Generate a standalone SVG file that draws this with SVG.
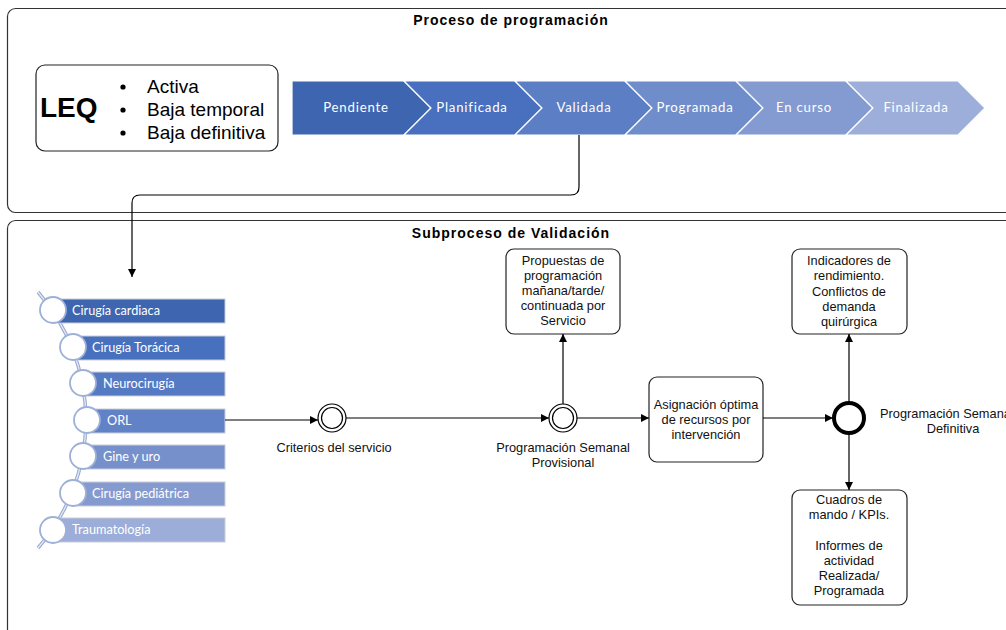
<svg xmlns="http://www.w3.org/2000/svg" width="1006" height="630" viewBox="0 0 1006 630">
<defs>
<marker id="arr" viewBox="0 0 10 10" refX="10" refY="5" markerWidth="8" markerHeight="8" markerUnits="userSpaceOnUse" orient="auto"><path d="M0,0 L10,5 L0,10 z" fill="#000"/></marker>
<style>
.cont{fill:#fff;stroke:#333;stroke-width:1.2}
.box{fill:#fff;stroke:#222;stroke-width:1.2}
.t{font-family:"Liberation Sans",Arial,sans-serif;font-size:12.8px;fill:#111;text-anchor:middle}
.title{font-family:"Liberation Sans",Arial,sans-serif;font-size:14px;font-weight:bold;fill:#000;text-anchor:middle;letter-spacing:1px}
.chev{stroke:#fff;stroke-width:1.2}
.ct{font-family:Lato,"Open Sans",sans-serif;font-size:13.2px;fill:#fff;text-anchor:middle;letter-spacing:0.8px}
.sr{stroke:#c9cdd6;stroke-width:1}
.st{font-family:Lato,"Open Sans",sans-serif;font-size:12.7px;fill:#fff}
.sc{fill:#fff;stroke:#9eb0d8;stroke-width:1.8}
.conn{fill:none;stroke:#000;stroke-width:1.2}
</style>
</defs>

<g id="proceso-programacion">
<rect class="cont" x="7.5" y="8.5" width="1010" height="204" rx="8"/>
<text class="title" x="511" y="25">Proceso de programación</text>
</g>

<g id="subproceso-validacion">
<rect class="cont" x="7.5" y="220.5" width="1010" height="430" rx="8"/>
<text class="title" x="511" y="238">Subproceso de Validación</text>
</g>

<g id="leq">
<rect class="box" x="36" y="65" width="242" height="86" rx="9"/>
<text x="40" y="117" font-family="Liberation Sans,Arial,sans-serif" font-size="28" font-weight="bold" fill="#000">LEQ</text>
<circle cx="123" cy="87" r="2.6" fill="#000"/>
<circle cx="123" cy="110" r="2.6" fill="#000"/>
<circle cx="123" cy="133" r="2.6" fill="#000"/>
<g font-family="Liberation Sans,Arial,sans-serif" font-size="19" fill="#000">
<text x="147" y="93">Activa</text>
<text x="147" y="116">Baja temporal</text>
<text x="147" y="139">Baja definitiva</text>
</g>
</g>

<g id="estados">
<polygon class="chev" fill="#3E66B0" points="292,81 404,81 431,108 404,135 292,135"/>
<polygon class="chev" fill="#4870BE" points="404,81 515,81 542,108 515,135 404,135 431,108"/>
<polygon class="chev" fill="#5B7EC5" points="515,81 625,81 652,108 625,135 515,135 542,108"/>
<polygon class="chev" fill="#6F8DCA" points="625,81 736,81 763,108 736,135 625,135 652,108"/>
<polygon class="chev" fill="#839BD0" points="736,81 846,81 873,108 846,135 736,135 763,108"/>
<polygon class="chev" fill="#9CAED9" points="846,81 958,81 985,108 958,135 846,135 873,108"/>
<text class="ct" x="356" y="112">Pendiente</text>
<text class="ct" x="472" y="112">Planificada</text>
<text class="ct" x="584" y="112">Validada</text>
<text class="ct" x="695" y="112">Programada</text>
<text class="ct" x="804" y="112">En curso</text>
<text class="ct" x="916" y="112">Finalizada</text>
</g>

<g id="servicios">
<path d="M38,292 A195,195 0 0 1 38,548" fill="none" stroke="#9aabd2" stroke-width="3.5"/>
<path d="M38,292 A195,195 0 0 1 38,548" fill="none" stroke="#e3e8f4" stroke-width="1.3"/>
<rect class="sr" x="53" y="299" width="172" height="24" fill="#3D65B0"/>
<rect class="sr" x="73" y="336" width="152" height="24" fill="#4770BE"/>
<rect class="sr" x="83" y="372" width="142" height="24" fill="#5579C3"/>
<rect class="sr" x="87" y="409" width="138" height="24" fill="#6282C7"/>
<rect class="sr" x="83" y="445" width="142" height="24" fill="#7690CB"/>
<rect class="sr" x="73" y="482" width="152" height="24" fill="#859BD0"/>
<rect class="sr" x="53" y="518" width="172" height="24" fill="#9BADD8"/>
<circle class="sc" cx="53" cy="310" r="13"/>
<circle class="sc" cx="73" cy="347" r="13"/>
<circle class="sc" cx="83" cy="383" r="13"/>
<circle class="sc" cx="87" cy="420" r="13"/>
<circle class="sc" cx="83" cy="456" r="13"/>
<circle class="sc" cx="73" cy="493" r="13"/>
<circle class="sc" cx="53" cy="530" r="13"/>
<text class="st" x="72" y="315">Cirugía cardiaca</text>
<text class="st" x="92" y="352">Cirugía Torácica</text>
<text class="st" x="103" y="388">Neurocirugía</text>
<text class="st" x="107" y="425">ORL</text>
<text class="st" x="103" y="461">Gine y uro</text>
<text class="st" x="92" y="498">Cirugía pediátrica</text>
<text class="st" x="72" y="534">Traumatología</text>
</g>

<g id="criterios">
<circle cx="332" cy="418" r="14" fill="#fff" stroke="#000" stroke-width="1.2"/>
<circle cx="332" cy="418" r="10.5" fill="none" stroke="#000" stroke-width="1.2"/>
<text class="t" x="334" y="452">Criterios del servicio</text>
</g>

<g id="prog-provisional">
<circle cx="563" cy="418" r="14" fill="#fff" stroke="#000" stroke-width="1.2"/>
<circle cx="563" cy="418" r="10.5" fill="none" stroke="#000" stroke-width="1.2"/>
<text class="t" x="563" y="452">Programación Semanal</text>
<text class="t" x="563" y="467">Provisional</text>
</g>

<g id="propuestas">
<rect class="box" x="506" y="249" width="114" height="85" rx="8"/>
<text class="t" x="563" y="265">Propuestas de</text>
<text class="t" x="563" y="280">programación</text>
<text class="t" x="563" y="295">mañana/tarde/</text>
<text class="t" x="563" y="310">continuada por</text>
<text class="t" x="563" y="325">Servicio</text>
</g>

<g id="asignacion">
<rect class="box" x="649" y="377" width="114" height="85" rx="8"/>
<text class="t" x="706" y="409">Asignación óptima</text>
<text class="t" x="706" y="424">de recursos por</text>
<text class="t" x="706" y="439">intervención</text>
</g>

<g id="prog-definitiva">
<circle cx="849" cy="418" r="15" fill="#fff" stroke="#000" stroke-width="4"/>
<text class="t" x="880" y="418" style="text-anchor:start">Programación Semanal</text>
<text class="t" x="953" y="433">Definitiva</text>
</g>

<g id="indicadores">
<rect class="box" x="792" y="249" width="115" height="85" rx="8"/>
<text class="t" x="849" y="265">Indicadores de</text>
<text class="t" x="849" y="280">rendimiento.</text>
<text class="t" x="849" y="296">Conflictos de</text>
<text class="t" x="849" y="311">demanda</text>
<text class="t" x="849" y="326">quirúrgica</text>
</g>

<g id="cuadros">
<rect class="box" x="792" y="490" width="115" height="115" rx="8"/>
<text class="t" x="849" y="504">Cuadros de</text>
<text class="t" x="849" y="519">mando / KPIs.</text>
<text class="t" x="849" y="550">Informes de</text>
<text class="t" x="849" y="565">actividad</text>
<text class="t" x="849" y="580">Realizada/</text>
<text class="t" x="849" y="595">Programada</text>
</g>

<g id="conectores">
<path class="conn" d="M579,135 V187 Q579,195 571,195 H140 Q132,195 132,203 V277" marker-end="url(#arr)"/>
<path class="conn" d="M225,420 H318" marker-end="url(#arr)"/>
<path class="conn" d="M346,418 H549" marker-end="url(#arr)"/>
<path class="conn" d="M563,404 V334" marker-end="url(#arr)"/>
<path class="conn" d="M577,418 H649" marker-end="url(#arr)"/>
<path class="conn" d="M763,418 H833" marker-end="url(#arr)"/>
<path class="conn" d="M849,402 V334" marker-end="url(#arr)"/>
<path class="conn" d="M849,434 V490" marker-end="url(#arr)"/>
</g>
</svg>
